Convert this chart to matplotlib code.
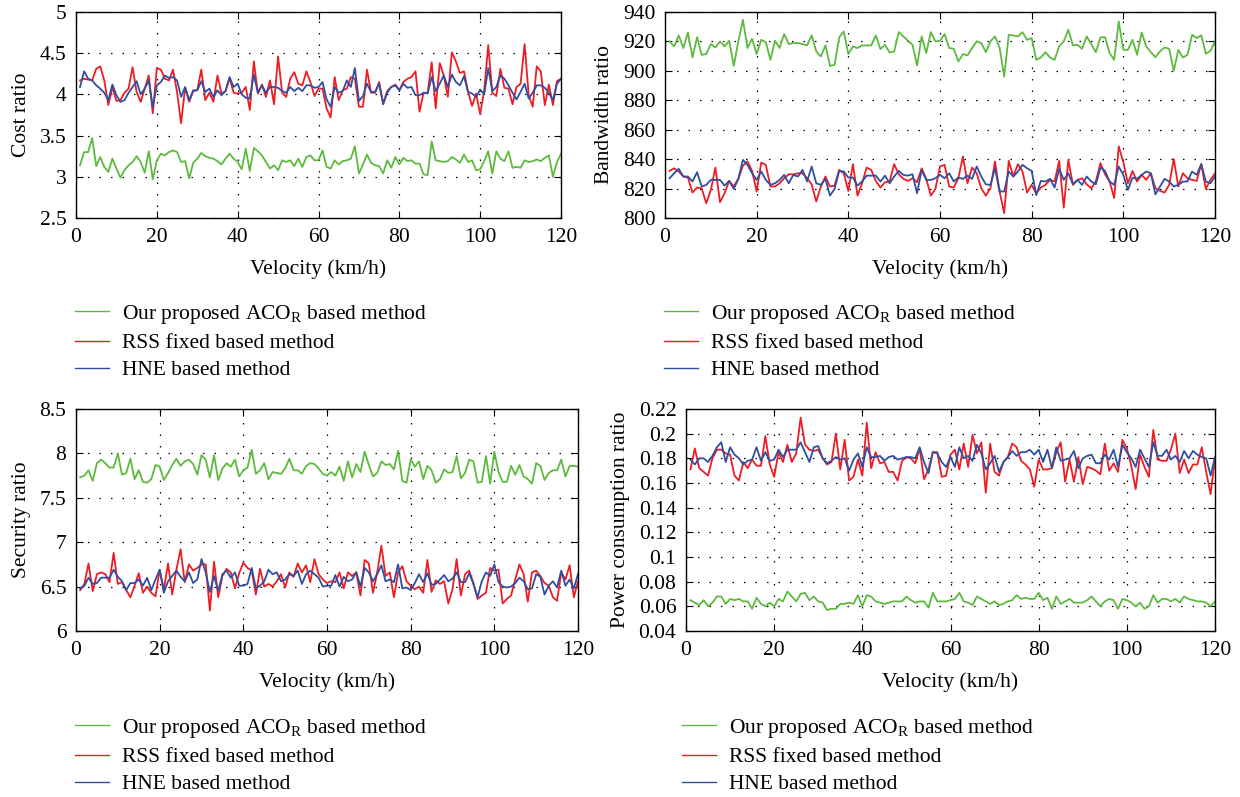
import numpy as np
import matplotlib
matplotlib.use("Agg")
import matplotlib.pyplot as plt
from matplotlib.ticker import FormatStrFormatter, MultipleLocator
from matplotlib.lines import Line2D

plt.rcParams['font.family'] = ['Liberation Serif', 'DejaVu Serif']
plt.rcParams['mathtext.fontset'] = 'custom'
plt.rcParams['mathtext.rm'] = 'Liberation Serif'
plt.rcParams['mathtext.it'] = 'Liberation Serif:italic'

velocity = list(range(1, 121))
series_labels = ["Our proposed ACO$_{\\mathrm{R}}$ based method",
                 "RSS fixed based method",
                 "HNE based method"]

cost_aco = [3.14,3.30,3.30,3.47,3.13,3.24,3.12,3.06,3.22,3.10, 2.99,3.08,3.14,3.18,3.25,3.18,3.05,3.31,2.97,3.20,
            3.28,3.26,3.30,3.32,3.30,3.18,3.19,2.98,3.17,3.22, 3.29,3.25,3.23,3.22,3.19,3.15,3.22,3.28,3.22,3.18,
            3.09,3.34,3.07,3.35,3.31,3.26,3.18,3.10,3.14,3.08, 3.20,3.18,3.20,3.13,3.22,3.12,3.24,3.26,3.20,3.20,
            3.32,3.12,3.10,3.20,3.15,3.19,3.20,3.22,3.37,3.04, 3.15,3.27,3.17,3.14,3.13,3.04,3.20,3.11,3.24,3.15,
            3.23,3.19,3.20,3.16,3.16,3.03,3.02,3.43,3.20,3.19, 3.18,3.19,3.24,3.21,3.17,3.27,3.18,3.20,3.08,3.09,
            3.19,3.31,3.04,3.31,3.22,3.19,3.31,3.11,3.12,3.11, 3.20,3.18,3.19,3.21,3.19,3.23,3.26,3.00,3.18,3.28]
cost_rss = [4.17,4.19,4.18,4.17,4.31,4.34,4.17,3.87,4.09,3.92, 3.93,4.02,4.07,4.33,4.03,3.91,4.07,4.23,3.77,4.32,
            4.30,4.19,4.17,4.30,4.03,3.65,4.08,3.91,4.04,4.05, 4.30,3.93,4.02,3.91,4.23,4.01,4.04,4.20,4.02,4.01,
            4.02,4.09,3.81,4.40,4.01,4.12,3.97,4.17,3.88,4.46, 4.02,3.97,4.19,4.27,4.13,4.11,4.28,4.15,3.98,4.07,
            4.07,3.83,3.72,4.21,3.93,4.05,4.07,4.21,4.19,3.85, 3.85,4.30,4.02,4.02,4.15,3.89,4.04,4.09,4.12,4.05,
            4.15,4.19,4.21,4.28,3.79,4.02,4.02,4.39,3.83,4.38, 4.23,3.97,4.51,4.40,4.26,4.28,4.03,3.86,4.01,3.76,
            4.05,4.60,4.02,3.98,4.31,4.08,4.07,3.88,4.09,4.13, 4.61,3.99,3.85,4.34,4.28,3.87,4.12,3.87,4.16,4.19]
cost_hne = [4.09,4.28,4.19,4.17,4.11,4.07,4.02,3.93,4.12,3.99, 3.91,3.93,4.02,4.09,4.16,4.00,4.07,4.17,3.85,4.11,
            4.15,4.23,4.20,4.21,4.17,3.97,4.09,3.93,4.05,4.05, 4.16,4.03,4.07,3.97,4.05,3.99,4.04,4.21,4.09,4.13,
            4.00,3.96,3.95,4.24,4.02,4.11,4.02,4.09,4.09,4.08, 4.04,4.02,4.09,4.04,4.08,4.04,4.11,4.11,4.08,4.09,
            4.15,3.94,3.85,4.09,4.02,4.04,4.17,4.09,4.32,3.92, 3.98,4.13,4.03,4.03,4.13,3.88,4.02,4.09,4.11,4.05,
            4.13,4.08,4.09,3.99,3.99,4.02,4.01,4.21,4.04,4.13, 4.23,4.09,4.24,4.15,4.11,4.22,4.03,4.01,3.97,4.06,
            4.00,4.32,4.04,4.09,4.23,4.19,4.11,4.02,3.94,4.03, 4.13,3.95,4.02,4.11,4.11,4.08,4.02,3.93,4.13,4.19]

bw_aco = [920,916.6,924.1,915.5,926.1,909.1,922.9,910.9,911.4,918.2, 915.9,920,916.6,920.5,903.4,920,934.7,915.5,921.8,911.4,
          921.1,919.5,907.5,920.5,915.5,925,918.2,918.9,918.9,918.2, 917.3,924.1,913.2,909.8,917.3,903.4,904.1,922.7,926.8,911.4,
          916.6,915.5,917.3,917.3,917.3,924.1,914.8,917.7,912.5,913.2, 926.3,923.4,920.5,917.7,903.6,923.4,912.1,926.3,920,920.5,
          925,915.5,915,906.4,911.4,910.5,915.5,920,918.9,912.7, 920,923.4,915.9,896.1,924.5,924.1,923.4,926.3,921.1,922.3,
          907.5,909.1,912.7,909.1,907.5,916.6,920,927.9,917.3,917.7, 915,923.4,918.2,912.7,922.7,922.9,912.1,907.5,933.6,914.3,
          914.3,921.1,910.9,926.1,916.6,912.7,909.3,913.2,915.9,915, 900,914.3,909.1,910.9,924.5,922.3,924.1,911.6,913.6,920]
bw_rss = [832.0,833.8,831.6,828.2,827.5,817.3,820.7,820.2,810.0,819.1, 834.3,810.7,816.8,825.2,821.4,826.6,835.6,838.4,832.0,818.0,
          837.7,836.1,821.4,821.4,823.6,827.0,829.7,829.7,830.4,830.4, 827.0,822.9,811.2,821.4,828.2,821.4,822.0,832.7,830.4,818.4,
          836.6,815.2,823.6,834.3,832.7,825.2,820.7,824.3,824.8,836.6, 829.7,826.6,825.2,827.0,824.3,833.8,826.6,815.2,819.8,835.0,
          836.1,821.4,820.7,827.0,841.8,823.6,834.3,830.4,820.2,815.2, 820.2,838.4,818.0,803.3,838.8,828.2,836.6,831.6,817.3,822.5,
          816.8,820.7,822.5,825.9,824.8,838.8,807.0,839.5,822.5,825.9, 827.0,822.9,820.2,824.8,837.3,829.7,824.8,813.6,848.6,837.9,
          823.6,832.0,824.8,829.3,825.9,830.4,820.2,818.4,817.3,822.5, 840.1,821.4,830.4,827.0,825.9,825.2,836.6,819.8,825.9,830.4]
bw_hne = [827.0,830.4,833.4,828.2,828.2,824.8,831.1,821.4,822.5,825.9, 825.9,825.9,822.0,825.2,819.8,826.6,839.5,836.1,830.4,825.9,
          831.6,825.9,822.5,823.6,825.9,829.3,823.6,829.3,828.2,832.7, 824.8,835.0,823.6,822.5,826.6,815.2,819.8,832.0,831.6,827.5,
          827.5,822.0,824.8,828.8,828.8,828.8,824.8,828.8,823.6,828.2, 832.0,829.3,828.8,829.7,816.8,832.7,825.9,825.9,827.0,829.3,
          827.0,830.4,824.8,827.5,826.6,828.8,826.6,835.0,828.2,822.9, 822.5,833.8,818.0,818.0,831.6,828.2,831.6,836.1,833.8,832.0,
          815.6,825.2,824.8,826.6,820.7,833.4,825.9,830.4,822.9,825.9, 822.5,828.2,824.8,822.9,834.3,832.0,824.8,822.5,835.0,829.3,
          819.1,827.5,826.6,829.3,831.6,830.4,816.1,821.4,826.6,824.8, 821.4,822.5,824.8,824.8,831.6,829.3,836.6,824.8,823.6,828.2]

sec_aco = [7.73,7.75,7.81,7.69,7.89,7.93,7.89,7.84,7.84,8.00, 7.76,7.78,7.94,7.71,7.81,7.68,7.67,7.71,7.87,7.85,
           7.70,7.78,7.87,7.94,7.86,7.91,7.93,7.88,7.76,7.98, 7.93,7.73,7.98,7.70,7.83,7.89,7.85,7.93,7.74,7.81,
           7.84,8.04,7.77,7.81,7.89,7.71,7.79,7.78,7.77,7.83, 7.94,7.81,7.81,7.77,7.86,7.89,7.88,7.83,7.77,7.75,
           7.79,7.75,7.85,7.69,7.91,7.73,7.88,7.79,8.02,7.87, 7.74,7.78,7.91,7.87,7.88,7.82,8.03,7.69,7.67,7.93,
           7.85,7.91,7.71,7.86,7.81,7.67,7.71,7.82,7.78,7.79, 7.97,7.72,7.78,7.93,7.91,7.67,7.68,7.97,7.66,8.02,
           7.79,7.68,7.68,7.86,7.76,7.87,7.74,7.71,7.66,7.89, 7.86,7.70,7.78,7.81,7.81,7.93,7.74,7.86,7.86,7.85]
sec_rss = [6.46,6.53,6.76,6.45,6.64,6.66,6.64,6.55,6.88,6.53, 6.55,6.46,6.38,6.51,6.65,6.43,6.50,6.43,6.39,6.69,
           6.47,6.76,6.41,6.69,6.92,6.55,6.75,6.68,6.71,6.75, 6.75,6.23,6.78,6.38,6.62,6.70,6.66,6.48,6.65,6.77,
           6.71,6.68,6.41,6.70,6.50,6.53,6.50,6.56,6.64,6.49, 6.66,6.61,6.76,6.66,6.74,6.55,6.81,6.64,6.58,6.54,
           6.56,6.55,6.66,6.48,6.66,6.62,6.66,6.40,6.80,6.76, 6.43,6.66,6.96,6.62,6.66,6.38,6.66,6.73,6.56,6.51,
           6.47,6.50,6.43,6.80,6.44,6.57,6.53,6.56,6.31,6.47, 6.81,6.40,6.64,6.68,6.54,6.36,6.40,6.43,6.71,6.68,
           6.69,6.31,6.36,6.40,6.58,6.75,6.64,6.33,6.66,6.68, 6.62,6.54,6.51,6.38,6.34,6.66,6.58,6.74,6.38,6.56]
sec_hne = [6.48,6.51,6.60,6.53,6.54,6.60,6.60,6.60,6.69,6.61, 6.56,6.46,6.54,6.54,6.58,6.51,6.60,6.46,6.58,6.69,
           6.43,6.56,6.62,6.68,6.61,6.56,6.66,6.54,6.58,6.81, 6.66,6.44,6.62,6.45,6.64,6.68,6.60,6.66,6.51,6.51,
           6.53,6.71,6.48,6.51,6.56,6.69,6.64,6.66,6.56,6.58, 6.64,6.62,6.68,6.53,6.64,6.68,6.64,6.60,6.50,6.51,
           6.51,6.63,6.50,6.61,6.56,6.58,6.66,6.50,6.71,6.66, 6.56,6.64,6.74,6.56,6.58,6.55,6.75,6.48,6.49,6.46,
           6.54,6.64,6.55,6.65,6.52,6.53,6.58,6.63,6.56,6.59, 6.66,6.55,6.55,6.65,6.53,6.38,6.56,6.66,6.62,6.75,
           6.55,6.50,6.49,6.50,6.54,6.60,6.56,6.47,6.48,6.64, 6.61,6.41,6.51,6.56,6.49,6.68,6.51,6.58,6.48,6.64]

pow_aco = [0.065,0.063,0.061,0.065,0.060,0.063,0.068,0.068,0.062,0.066, 0.065,0.066,0.064,0.064,0.058,0.067,0.062,0.060,0.063,0.060,
           0.066,0.064,0.072,0.068,0.064,0.070,0.071,0.065,0.068,0.064, 0.063,0.057,0.058,0.058,0.062,0.062,0.063,0.062,0.069,0.060,
           0.069,0.068,0.064,0.063,0.062,0.063,0.064,0.064,0.064,0.068, 0.065,0.063,0.064,0.064,0.059,0.071,0.064,0.064,0.064,0.065,
           0.066,0.071,0.064,0.063,0.061,0.068,0.066,0.064,0.062,0.064, 0.061,0.062,0.064,0.065,0.069,0.066,0.067,0.066,0.066,0.071,
           0.065,0.067,0.058,0.068,0.062,0.064,0.066,0.063,0.063,0.063, 0.065,0.068,0.064,0.060,0.064,0.066,0.065,0.058,0.066,0.065,
           0.063,0.060,0.063,0.058,0.060,0.069,0.063,0.066,0.066,0.064, 0.066,0.063,0.068,0.066,0.065,0.064,0.064,0.063,0.060,0.064]
pow_rss = [0.171,0.188,0.172,0.169,0.166,0.180,0.187,0.187,0.184,0.183, 0.166,0.162,0.177,0.172,0.179,0.174,0.174,0.198,0.175,0.165,
           0.185,0.177,0.191,0.177,0.184,0.213,0.191,0.187,0.186,0.187, 0.180,0.175,0.177,0.200,0.171,0.195,0.162,0.165,0.179,0.166,
           0.209,0.172,0.185,0.176,0.177,0.169,0.169,0.162,0.178,0.181, 0.180,0.176,0.188,0.163,0.171,0.185,0.185,0.165,0.166,0.183,
           0.187,0.171,0.192,0.173,0.199,0.184,0.193,0.152,0.192,0.169, 0.166,0.177,0.181,0.192,0.189,0.178,0.175,0.171,0.157,0.179,
           0.171,0.171,0.172,0.185,0.193,0.161,0.179,0.161,0.181,0.159, 0.173,0.172,0.170,0.167,0.192,0.170,0.176,0.169,0.195,0.188,
           0.174,0.155,0.183,0.173,0.165,0.203,0.179,0.178,0.178,0.187, 0.200,0.168,0.179,0.168,0.175,0.175,0.189,0.169,0.151,0.180]
pow_hne = [0.179,0.175,0.180,0.180,0.177,0.182,0.189,0.193,0.177,0.189, 0.183,0.180,0.175,0.178,0.179,0.189,0.178,0.185,0.178,0.179,
           0.187,0.181,0.187,0.187,0.187,0.193,0.185,0.177,0.189,0.190, 0.180,0.176,0.178,0.181,0.179,0.180,0.170,0.179,0.184,0.173,
           0.189,0.181,0.181,0.182,0.178,0.181,0.182,0.179,0.180,0.181, 0.181,0.180,0.189,0.177,0.168,0.185,0.184,0.177,0.173,0.181,
           0.173,0.189,0.180,0.182,0.178,0.191,0.184,0.171,0.176,0.182, 0.169,0.177,0.181,0.186,0.182,0.185,0.185,0.187,0.183,0.187,
           0.177,0.187,0.172,0.189,0.178,0.179,0.180,0.186,0.172,0.180, 0.182,0.183,0.176,0.176,0.183,0.179,0.187,0.173,0.191,0.185,
           0.180,0.173,0.187,0.180,0.173,0.193,0.182,0.182,0.187,0.179, 0.182,0.177,0.186,0.180,0.186,0.183,0.181,0.180,0.166,0.181]

colors = ['#5dba3f', '#ee1d23', '#2f4fa2']
W, H = 1240, 797
fig = plt.figure(figsize=(W / 100, H / 100), dpi=100)

def box(l, t, r, b):
    return [l / W, 1 - b / H, (r - l) / W, (b - t) / H]

panels = [
    dict(rect=box(76, 12, 561, 218), data=(cost_aco, cost_rss, cost_hne), ylim=(2.5, 5), step=0.5,
         ylabel='Cost ratio', leg=(75, 303)),
    dict(rect=box(665, 12, 1215, 218), data=(bw_aco, bw_rss, bw_hne), ylim=(800, 940), step=20,
         ylabel='Bandwidth ratio', leg=(664, 303)),
    dict(rect=box(76, 409, 578, 631), data=(sec_aco, sec_rss, sec_hne), ylim=(6, 8.5), step=0.5,
         ylabel='Security ratio', leg=(75, 717)),
    dict(rect=box(686, 409, 1215, 631), data=(pow_aco, pow_rss, pow_hne), ylim=(0.04, 0.22), step=0.02,
         ylabel='Power consumption ratio', leg=(682, 717)),
]

for p in panels:
    ax = fig.add_axes(p['rect'])
    for vals, c in zip(p['data'], colors):
        ax.plot(velocity, vals, color=c, lw=1.3)
    ax.set_xlim(0, 120)
    ax.set_ylim(*p['ylim'])
    ax.xaxis.set_major_locator(MultipleLocator(20))
    ax.yaxis.set_major_locator(MultipleLocator(p['step']))
    ax.yaxis.set_major_formatter(FormatStrFormatter('%g'))
    ax.tick_params(direction='in', length=5, width=0.8, top=True, right=True,
                   labelsize=15.5, pad=7, colors='black')
    ax.grid(True, color='black', lw=0.9, linestyle=(0, (1.2, 8)))
    for s in ax.spines.values():
        s.set_linewidth(1.0)
    ax.set_xlabel('Velocity (km/h)', fontsize=15.5, labelpad=9)
    ax.set_ylabel(p['ylabel'], fontsize=15.5, labelpad=6)
    handles = [Line2D([], [], color=c, lw=1.0) for c in colors]
    fig.legend(handles, series_labels, loc='upper left',
               bbox_to_anchor=(p['leg'][0] / W, 1 - p['leg'][1] / H),
               bbox_transform=fig.transFigure, frameon=False, fontsize=15.5,
               borderpad=0, borderaxespad=0, handlelength=1.6, handletextpad=0.6,
               labelspacing=0.33)

fig.savefig('out.png', dpi=100)
